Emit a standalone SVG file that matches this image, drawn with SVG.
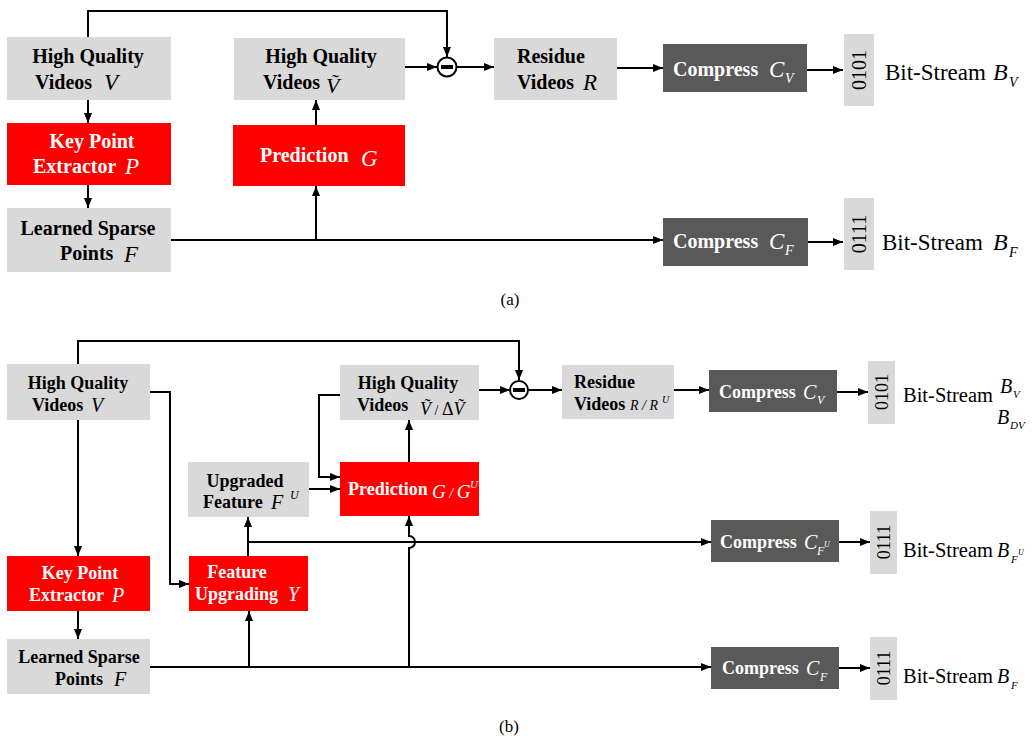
<svg xmlns="http://www.w3.org/2000/svg" width="1032" height="736" viewBox="0 0 1032 736" font-family="'Liberation Serif', 'Times New Roman', serif">
<defs>
<marker id="ah" viewBox="0 0 10 8" refX="10" refY="4" markerWidth="10" markerHeight="8" markerUnits="userSpaceOnUse" orient="auto"><path d="M0,0 L10,4 L0,8 z" fill="#000"/></marker>
</defs>
<style>
text{font-family:'Liberation Serif','Times New Roman',serif;fill:#000}
.b{font-weight:bold}
.m{font-style:italic;font-weight:normal}
.w{fill:#fff}
.c{text-anchor:middle}
.g{fill:#d9d9d9}
.r{fill:#ff0000}
.d{fill:#595959}
.ar{fill:none;stroke:#000;stroke-width:2;marker-end:url(#ah)}
.s{fill:#fff;stroke:#000;stroke-width:2}
</style>
<rect width="1032" height="736" fill="#fff"/>

<g id="connectors">
<path class="ar" d="M88,37 V11 H447 V57"/>
<path class="ar" d="M88,100 V123"/>
<path class="ar" d="M88,185 V208"/>
<path class="ar" d="M171,240 H663"/>
<path class="ar" d="M316,240 V186"/>
<path class="ar" d="M316,125 V100"/>
<path class="ar" d="M405,67 H437"/>
<path class="ar" d="M457,67 H494"/>
<path class="ar" d="M617,68 H663"/>
<path class="ar" d="M807,70 H843"/>
<path class="ar" d="M808,242 H843"/>

<path class="ar" d="M78,364 V341 H519 V380"/>
<path class="ar" d="M78,420 V556"/>
<path class="ar" d="M78,611 V639"/>
<path class="ar" d="M150,392 H170 V584 H189"/>
<path class="ar" d="M150,667 H711"/>
<path class="ar" d="M249,667 V611"/>
<path class="ar" d="M248,556 V517"/>
<path class="ar" d="M248,542 H711"/>
<path class="ar" d="M409,667 V548 A6,6 0 0 0 409,536 V516"/>
<path class="ar" d="M309,489 H340"/>
<path class="ar" d="M340,395 H319 V477 H340"/>
<path class="ar" d="M409,462 V420"/>
<path class="ar" d="M479,390 H510"/>
<path class="ar" d="M528,390 H562"/>
<path class="ar" d="M674,390 H709"/>
<path class="ar" d="M837,392 H868"/>
<path class="ar" d="M839,542 H870"/>
<path class="ar" d="M839,668 H870"/>
</g>

<!-- (a) -->
<g id="a_hqv">
<rect class="g" x="7" y="37" width="164" height="63"/>
<text class="b c" x="88" y="63" font-size="20">High Quality</text>
<text class="b" x="35" y="89" font-size="20">Videos</text>
<text class="m" x="104" y="90" font-size="23">V</text>
</g>
<g id="a_kp">
<rect class="r" x="7" y="123" width="164" height="62"/>
<text class="b c w" x="92" y="148" font-size="20">Key Point</text>
<text class="b w" x="33" y="173" font-size="20">Extractor</text>
<text class="m w" x="125" y="174" font-size="23">P</text>
</g>
<g id="a_lsp">
<rect class="g" x="7" y="208" width="164" height="64"/>
<text class="b c" x="88" y="235" font-size="20">Learned Sparse</text>
<text class="b" x="60" y="260" font-size="20">Points</text>
<text class="m" x="124" y="262" font-size="23">F</text>
</g>
<g id="a_hqvt">
<rect class="g" x="234" y="38" width="171" height="62"/>
<text class="b c" x="321" y="63" font-size="20">High Quality</text>
<text class="b" x="263" y="89" font-size="20">Videos</text>
<text class="m" x="326" y="93" font-size="22">V&#x303;</text>
</g>
<g id="a_pred">
<rect class="r" x="233" y="125" width="172" height="61"/>
<text class="b w" x="260" y="162" font-size="20">Prediction</text>
<text class="m w" x="361" y="166" font-size="23">G</text>
</g>
<g id="a_minus">
<circle class="s" cx="447" cy="67" r="9.5"/>
<rect x="441" y="65" width="12" height="4" fill="#000"/>
</g>
<g id="a_res">
<rect class="g" x="494" y="38" width="123" height="62"/>
<text class="b" x="517" y="63" font-size="20">Residue</text>
<text class="b" x="517" y="89" font-size="20">Videos</text>
<text class="m" x="583" y="90" font-size="23">R</text>
</g>
<g id="a_cv">
<rect class="d" x="663" y="44" width="144" height="48"/>
<text class="b w" x="673" y="76" font-size="20">Compress</text>
<text class="m w" x="769" y="77" font-size="23">C</text>
<text class="m w" x="785" y="83" font-size="14">V</text>
</g>
<g id="a_cf">
<rect class="d" x="663" y="218" width="145" height="48"/>
<text class="b w" x="673" y="248" font-size="20">Compress</text>
<text class="m w" x="769" y="249" font-size="23">C</text>
<text class="m w" x="785" y="255" font-size="14">F</text>
</g>
<g id="a_bv">
<rect class="g" x="844" y="34" width="30" height="72"/>
<text class="c" transform="translate(866,70) rotate(-90)" font-size="20">0101</text>
<text x="885" y="80" font-size="23">Bit-Stream</text>
<text class="m" x="993" y="80" font-size="24">B</text>
<text class="m" x="1009" y="87" font-size="14">V</text>
</g>
<g id="a_bf">
<rect class="g" x="844" y="198" width="30" height="72"/>
<text class="c" transform="translate(866,234) rotate(-90)" font-size="20">0111</text>
<text x="882" y="250" font-size="23">Bit-Stream</text>
<text class="m" x="993" y="250" font-size="24">B</text>
<text class="m" x="1009" y="257" font-size="14">F</text>
</g>
<text class="c" x="510" y="305" font-size="17">(a)</text>

<!-- (b) -->
<g id="b_hqv">
<rect class="g" x="7" y="364" width="143" height="56"/>
<text class="b c" x="78" y="389" font-size="18">High Quality</text>
<text class="b" x="32" y="411" font-size="18">Videos</text>
<text class="m" x="91" y="412" font-size="20">V</text>
</g>
<g id="b_kp">
<rect class="r" x="7" y="556" width="143" height="55"/>
<text class="b c w" x="80" y="579" font-size="18">Key Point</text>
<text class="b w" x="29" y="601" font-size="18">Extractor</text>
<text class="m w" x="112" y="602" font-size="20">P</text>
</g>
<g id="b_lsp">
<rect class="g" x="7" y="639" width="143" height="55"/>
<text class="b c" x="79" y="663" font-size="18">Learned Sparse</text>
<text class="b" x="55" y="685" font-size="18">Points</text>
<text class="m" x="114" y="686" font-size="20">F</text>
</g>
<g id="b_fu">
<rect class="r" x="189" y="556" width="119" height="55"/>
<text class="b c w" x="237" y="578" font-size="18">Feature</text>
<text class="b w" x="195" y="600" font-size="18">Upgrading</text>
<text class="m w" x="288" y="601" font-size="20">Y</text>
</g>
<g id="b_uf">
<rect class="g" x="188" y="462" width="121" height="55"/>
<text class="b c" x="245" y="487" font-size="18">Upgraded</text>
<text class="b" x="203" y="508" font-size="18">Feature</text>
<text class="m" x="271" y="509" font-size="20">F</text>
<text class="m" x="290" y="499" font-size="12">U</text>
</g>
<g id="b_pred">
<rect class="r" x="340" y="462" width="139" height="54"/>
<text class="b w" x="348" y="495" font-size="18">Prediction</text>
<text class="m w" x="432" y="498" font-size="19">G<tspan font-size="14"> / </tspan>G</text>
<text class="m w" x="470" y="488" font-size="11">U</text>
</g>
<g id="b_hqvt">
<rect class="g" x="340" y="365" width="139" height="55"/>
<text class="b c" x="408" y="389" font-size="18">High Quality</text>
<text class="b" x="357" y="411" font-size="18">Videos</text>
<text x="420" y="415" font-size="18"><tspan class="m">V&#x303;</tspan><tspan font-size="14"> / </tspan>Δ<tspan class="m">V&#x303;</tspan></text>
</g>
<g id="b_minus">
<circle class="s" cx="519" cy="390" r="9"/>
<rect x="513" y="388" width="12" height="4" fill="#000"/>
</g>
<g id="b_res">
<rect class="g" x="562" y="365" width="112" height="54"/>
<text class="b" x="574" y="388" font-size="18">Residue</text>
<text class="b" x="574" y="410" font-size="18">Videos</text>
<text class="m" x="630" y="410" font-size="14">R / R</text>
<text class="m" x="662" y="403" font-size="10">U</text>
</g>
<g id="b_cv">
<rect class="d" x="709" y="370" width="128" height="42"/>
<text class="b w" x="719" y="398" font-size="18">Compress</text>
<text class="m w" x="803" y="399" font-size="20">C</text>
<text class="m w" x="817" y="404" font-size="12">V</text>
</g>
<g id="b_cfu">
<rect class="d" x="711" y="520" width="128" height="42"/>
<text class="b w" x="720" y="548" font-size="18">Compress</text>
<text class="m w" x="804" y="549" font-size="20">C</text>
<text class="m w" x="817" y="555" font-size="12">F</text>
<text class="m w" x="824" y="547" font-size="8">U</text>
</g>
<g id="b_cf">
<rect class="d" x="711" y="647" width="128" height="42"/>
<text class="b w" x="722" y="674" font-size="18">Compress</text>
<text class="m w" x="806" y="675" font-size="20">C</text>
<text class="m w" x="820" y="681" font-size="12">F</text>
</g>
<g id="b_bv">
<rect class="g" x="868" y="361" width="27" height="63"/>
<text class="c" transform="translate(888,392) rotate(-90)" font-size="18">0101</text>
<text x="903" y="402" font-size="20.5">Bit-Stream</text>
<text class="m" x="1000" y="393" font-size="20">B</text>
<text class="m" x="1013" y="398" font-size="11">V</text>
<text class="m" x="997" y="424" font-size="20">B</text>
<text class="m" x="1010" y="429" font-size="11">DV</text>
</g>
<g id="b_bfu">
<rect class="g" x="870" y="511" width="27" height="63"/>
<text class="c" transform="translate(890,542) rotate(-90)" font-size="18">0111</text>
<text x="903" y="557" font-size="20.5">Bit-Stream</text>
<text class="m" x="997" y="557" font-size="20">B</text>
<text class="m" x="1011" y="563" font-size="11">F</text>
<text class="m" x="1018" y="555" font-size="8">U</text>
</g>
<g id="b_bf">
<rect class="g" x="870" y="637" width="27" height="63"/>
<text class="c" transform="translate(890,668) rotate(-90)" font-size="18">0111</text>
<text x="903" y="683" font-size="20.5">Bit-Stream</text>
<text class="m" x="997" y="683" font-size="20">B</text>
<text class="m" x="1011" y="689" font-size="11">F</text>
</g>
<text class="c" x="509" y="732" font-size="17">(b)</text>
</svg>
